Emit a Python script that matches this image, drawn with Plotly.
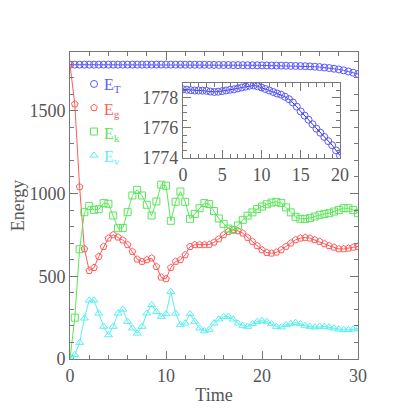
import plotly.graph_objects as go

# sample times (every 0.5 time units)
time = [0.0, 0.5, 1.0, 1.5, 2.0, 2.5, 3.0, 3.5, 4.0, 4.5, 5.0, 5.5, 6.0, 6.5, 7.0, 7.5,
        8.0, 8.5, 9.0, 9.5, 10.0, 10.5, 11.0, 11.5, 12.0, 12.5, 13.0, 13.5, 14.0, 14.5,
        15.0, 15.5, 16.0, 16.5, 17.0, 17.5, 18.0, 18.5, 19.0, 19.5, 20.0, 20.5, 21.0,
        21.5, 22.0, 22.5, 23.0, 23.5, 24.0, 24.5, 25.0, 25.5, 26.0, 26.5, 27.0, 27.5,
        28.0, 28.5, 29.0, 29.5, 30.0]

e_total = [1778.58, 1778.55, 1778.52, 1778.50, 1778.50, 1778.49, 1778.48, 1778.43,
           1778.40, 1778.42, 1778.46, 1778.50, 1778.55, 1778.58, 1778.64, 1778.70,
           1778.76, 1778.82, 1778.84, 1778.78, 1778.70, 1778.60, 1778.50, 1778.40,
           1778.30, 1778.22, 1778.08, 1777.92, 1777.70, 1777.42, 1777.10, 1776.82,
           1776.55, 1776.25, 1775.95, 1775.68, 1775.40, 1775.12, 1774.85, 1774.50,
           1774.15, 1773.8, 1773.4, 1773.0, 1772.6, 1772.1, 1771.5, 1770.8, 1770.0,
           1769.0, 1768.0, 1766.0, 1764.0, 1761.0, 1758.0, 1754.0, 1750.0, 1744.0,
           1737.0, 1730.0, 1722.0]

e_grav = [1778, 1540, 1040, 665, 534, 552, 619, 679, 730, 750, 736, 718, 690, 649, 603,
          589, 599, 609, 558, 494, 484, 552, 589, 599, 629, 679, 690, 690, 690, 692, 705,
          725, 750, 770, 780, 774, 760, 734, 710, 684, 659, 643, 639, 645, 659, 680, 700,
          720, 730, 734, 730, 720, 710, 696, 684, 675, 665, 665, 669, 675, 680]

e_kin = [0, 250, 663, 887, 925, 901, 905, 942, 938, 867, 790, 792, 887, 988, 1022, 988,
         932, 867, 952, 1053, 1047, 835, 950, 1012, 950, 847, 877, 911, 942, 936, 894,
         849, 817, 788, 780, 807, 841, 866, 886, 906, 921, 935, 945, 950, 942, 916, 886,
         859, 847, 847, 851, 861, 871, 877, 881, 891, 901, 911, 911, 901, 881]

e_vis = [0, 25, 99, 246, 355, 355, 276, 196, 145, 196, 276, 300, 226, 186, 155, 196, 276,
         327, 286, 256, 272, 407, 276, 206, 216, 272, 226, 186, 169, 178, 216, 240, 256,
         256, 240, 216, 202, 196, 212, 226, 232, 226, 212, 196, 192, 206, 212, 220, 212,
         202, 196, 192, 196, 196, 192, 186, 180, 176, 176, 180, 184]

inset_n = 41  # inset shows t = 0 .. 20

BLUE = '#5a5aff'
RED = '#ff5a5a'
GREEN = '#5ae65a'
CYAN = '#5af0f0'
GREY = '#555555'
FONT = 'Liberation Serif'

series = [
    ('T', e_total, BLUE, 'circle-open'),
    ('g', e_grav, RED, 'pentagon-open'),
    ('k', e_kin, GREEN, 'square-open'),
    ('v', e_vis, CYAN, 'triangle-up-open'),
]

# label positions (paper y) of the hand placed legend text
label_y = [0.8925, 0.811, 0.730, 0.655]

fig = go.Figure()
for (sub, vals, col, sym), ly in zip(series, label_y):
    fig.add_trace(go.Scatter(x=time, y=vals, mode='lines+markers',
                             line=dict(color=col, width=1),
                             marker=dict(symbol=sym, size=7, color=col, line=dict(width=1, color=col)),
                             showlegend=False))
    # legend symbol only; the label is an annotation sitting close to it
    fig.add_trace(go.Scatter(x=[None], y=[None], mode='markers', name=' ',
                             marker=dict(symbol=sym, size=7, color=col, line=dict(width=1, color=col))))
    fig.add_annotation(x=0.111, y=ly, xref='paper', yref='paper', xanchor='left', yanchor='middle',
                       text='E<sub>%s</sub>' % sub, showarrow=False,
                       font=dict(family=FONT, size=16, color=col))

fig.add_trace(go.Scatter(x=time[:inset_n], y=e_total[:inset_n], mode='lines+markers',
                         xaxis='x2', yaxis='y2',
                         line=dict(color='#3030e0', width=1),
                         marker=dict(symbol='circle-open', size=7, color=BLUE, line=dict(width=1, color=BLUE)),
                         showlegend=False))

axis_common = dict(showgrid=False, zeroline=False, showline=True, linecolor='#777777',
                   linewidth=1, mirror='ticks', ticks='inside', tickcolor='#777777',
                   automargin=False,
                   tickfont=dict(family=FONT, size=18, color=GREY))

fig.update_layout(
    width=409, height=409,
    margin=dict(l=62, r=59, t=44, b=58),
    paper_bgcolor='white', plot_bgcolor='white',
    font=dict(family=FONT, color=GREY),
    xaxis=dict(range=[0, 30], dtick=10, ticklen=8,
               minor=dict(dtick=2, ticklen=4, ticks='inside', tickcolor='#777777'),
               title=dict(text='Time', font=dict(family=FONT, size=18, color=GREY), standoff=3),
               **axis_common),
    yaxis=dict(range=[0, 1855], dtick=500, ticklen=8,
               minor=dict(dtick=100, ticklen=4, ticks='inside', tickcolor='#777777'),
               title=dict(text='Energy', font=dict(family=FONT, size=18, color=GREY), standoff=2),
               **axis_common),
    xaxis2=dict(domain=[0.392, 0.9375], anchor='y2', range=[0, 20], dtick=5, ticklen=8,
                minor=dict(dtick=1, ticklen=4, ticks='inside', tickcolor='#777777'),
                **axis_common),
    yaxis2=dict(domain=[0.655, 0.899], anchor='x2', range=[1774, 1779], dtick=2, ticklen=8,
                minor=dict(dtick=0.5, ticklen=4, ticks='inside', tickcolor='#777777'),
                **axis_common),
    legend=dict(x=0.014, y=0.951, xanchor='left', yanchor='top', bgcolor='rgba(0,0,0,0)',
                font=dict(family=FONT, size=16), itemwidth=30, tracegroupgap=0),
)

fig.write_html("out.html")
